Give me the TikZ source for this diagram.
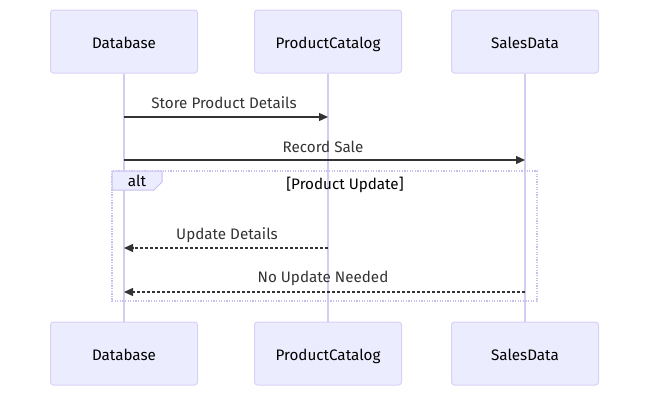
\documentclass[tikz,border=0pt]{standalone}
\usepackage{fontspec}
\setmainfont{Fira Sans}
\usetikzlibrary{arrows.meta}
\definecolor{actfill}{HTML}{ECECFF}
\definecolor{actline}{HTML}{D9D0F5}
\definecolor{lifeline}{HTML}{D6CCF2}
\definecolor{msg}{HTML}{333333}
\definecolor{frame}{HTML}{C8C0F0}
\tikzset{
  actor/.style={draw=actline, fill=actfill, rounded corners=3pt, line width=1pt, minimum width=147pt, minimum height=63pt, font=\fontsize{15.2}{18}\selectfont, text=black, text height=16pt, text depth=2pt},
  life/.style={draw=lifeline, line width=1.3pt},
  msgline/.style={draw=msg, line width=1.3pt, -{Triangle[length=9pt,width=8pt]}},
  reply/.style={msgline, dash pattern=on 3pt off 2pt},
  lbl/.style={font=\fontsize{15.2}{18}\selectfont, text=msg, inner sep=0pt},
}
\begin{document}
\begin{tikzpicture}[x=1pt,y=-1pt]
\useasboundingbox (0,0) rectangle (657,402);
% actors
\node[actor] (dbT) at (124,41.5) {Database};
\node[actor] (pcT) at (328,41.5) {ProductCatalog};
\node[actor] (sdT) at (525,41.5) {SalesData};
\node[actor] (dbB) at (124,353.5) {Database};
\node[actor] (pcB) at (328,353.5) {ProductCatalog};
\node[actor] (sdB) at (525,353.5) {SalesData};
% lifelines
\draw[life] (dbT.south) -- (dbB.north);
\draw[life] (pcT.south) -- (pcB.north);
\draw[life] (sdT.south) -- (sdB.north);
% coordinates for messages
\coordinate (m1s) at (124,117); \coordinate (m1e) at (328,117);
\coordinate (m2s) at (124,160); \coordinate (m2e) at (525,160);
\coordinate (m3s) at (328,248); \coordinate (m3e) at (124,248);
\coordinate (m4s) at (525,292); \coordinate (m4e) at (124,292);
\draw[msgline] (m1s) -- (m1e);
\node[lbl] (l1) at (224,103) {Store Product Details};
\draw[msgline] (m2s) -- (m2e);
\node[lbl] (l2) at (323,146.5) {Record Sale};
% alt frame
\coordinate (fA) at (112,171); \coordinate (fB) at (537,301);
\draw[frame, line width=1.3pt, dash pattern=on 1.3pt off 1.3pt] (fA) rectangle (fB);
\draw[frame, fill=actfill, line width=1pt] (112,171) -- (162,171) -- (162,182) -- (154,190) -- (112,190) -- cycle;
\node[lbl, text=black] (alt) at (137,181) {alt};
\node[lbl, text=black] (cond) at (345,184.5) {[Product Update]};
\draw[reply] (m3s) -- (m3e);
\node[lbl] (l3) at (227,235) {Update Details};
\draw[reply] (m4s) -- (m4e);
\node[lbl] (l4) at (323,278) {No Update Needed};
\end{tikzpicture}
\end{document}
